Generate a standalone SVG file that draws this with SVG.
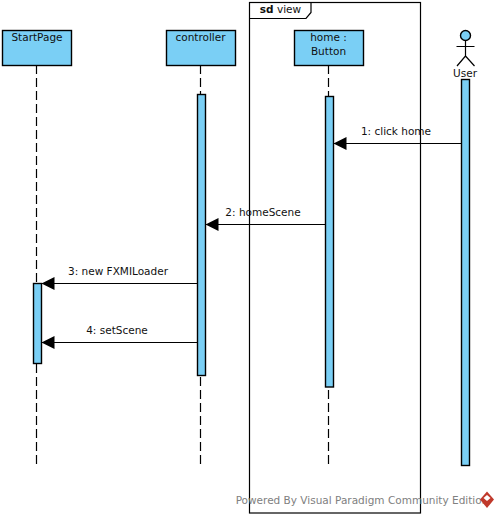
<svg xmlns="http://www.w3.org/2000/svg" width="499" height="517" viewBox="0 0 499 517">
<defs>
<style>
text{font-family:"DejaVu Sans","Liberation Sans",sans-serif;font-size:10.5px;fill:#111;text-anchor:middle}
.box{fill:#7acff5;stroke:#000;stroke-width:1.4}
.life{fill:none;stroke:#000;stroke-width:1.2;stroke-dasharray:9 4}
.msg{stroke:#000;stroke-width:1.2;fill:none;marker-end:url(#arrow)}
.line{fill:none;stroke:#000;stroke-width:1.2}
</style>
<marker id="arrow" markerUnits="userSpaceOnUse" markerWidth="13" markerHeight="14" refX="13" refY="7" orient="auto">
<path d="M0,0.5L13,7L0,13.5Z" fill="#000"/>
</marker>
</defs>
<rect width="499" height="517" fill="#fff"/>
<g id="frame">
<rect x="249.5" y="2.5" width="171" height="510.5" fill="#fff" stroke="#000" stroke-width="1.2"/>
<path class="line" d="M249.5,18.5H306L311,12.5V2.5"/>
<text x="280.5" y="13" style="font-weight:400"><tspan font-weight="700">sd</tspan> view</text>
</g>
<g id="lifelines">
<path class="life" d="M36.5,65V466"/>
<path class="life" d="M200.5,65V466"/>
<path class="life" d="M328.5,65V466"/>
</g>
<g id="StartPage">
<rect class="box" x="2.5" y="30.5" width="69" height="35"/>
<text x="37" y="41">StartPage</text>
<rect class="box" x="33.5" y="283.5" width="8" height="80"/>
</g>
<g id="controller">
<rect class="box" x="166.5" y="30.5" width="69" height="35"/>
<text x="200.5" y="41">controller</text>
<rect class="box" x="197.5" y="94.5" width="8" height="281"/>
</g>
<g id="home">
<rect class="box" x="294.5" y="30.5" width="69" height="35"/>
<text x="328.5" y="41">home :</text>
<text x="328.5" y="55">Button</text>
<rect class="box" x="325.5" y="96.5" width="8" height="290.5"/>
</g>
<g id="User">
<circle class="box" cx="465.5" cy="35.5" r="5" stroke-width="1.2"/>
<path class="line" d="M465.5,40.5V56M456.5,46.5H474.5M457,66L465.5,56L474.5,66"/>
<text x="465" y="76.500">User</text>
<rect class="box" x="461.5" y="79.500" width="8" height="386"/>
</g>
<g id="connectors">
<path class="msg" d="M461.5,143.500H333.500"/>
<path class="msg" d="M325.500,224.500H205.500"/>
<path class="msg" d="M197.500,283.500H41.500"/>
<path class="msg" d="M197.500,342.500H41.500"/>
<text x="396" y="134.500">1: click home</text>
<text x="263" y="216">2: homeScene</text>
<text x="118" y="275">3: new FXMILoader</text>
<text x="117" y="334">4: setScene</text>
</g>
<g id="watermark">
<text x="362" y="504" style="font-size:10.5px;fill:#808080">Powered By Visual Paradigm Community Edition</text>
<path d="M487,491.500L494,499.500L487,508L480,499.500Z" fill="#c0392b"/>
<path d="M483.500,498L487,495L490.500,498L487,501Z" fill="#fff"/>
</g>
</svg>
